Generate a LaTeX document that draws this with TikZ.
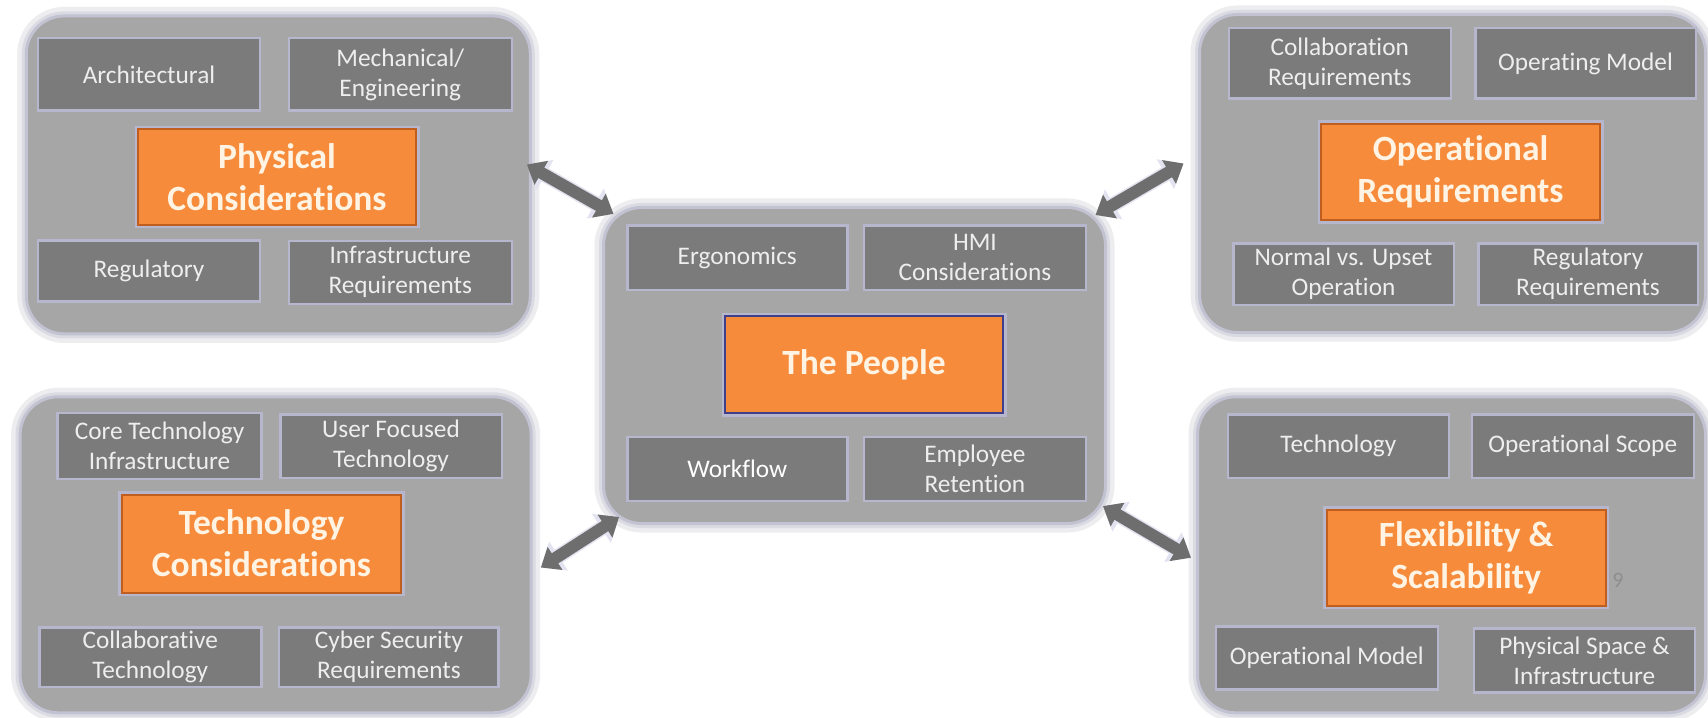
\documentclass[tikz,border=0pt]{standalone}
\usepackage{fontspec}
\setmainfont{Carlito}[Ligatures=NoCommon]
\usetikzlibrary{arrows.meta,calc}
\definecolor{panelgray}{HTML}{A6A6A6}
\definecolor{panelrim}{HTML}{C2C2D2}
\definecolor{glowA}{HTML}{DADAE2}
\definecolor{glowB}{HTML}{EDEDF0}
\definecolor{boxgray}{HTML}{7B7B7B}
\definecolor{boxrim}{HTML}{B6B6CC}
\definecolor{boxtext}{HTML}{EEEEEE}
\definecolor{orangefill}{HTML}{F78B3C}
\definecolor{orangeedge}{HTML}{BF5E1E}
\definecolor{navyedge}{HTML}{40408A}
\definecolor{titletext}{HTML}{FFF4E4}
\definecolor{arrowgray}{HTML}{6E6E6E}
\definecolor{arrowglow}{HTML}{E2E2F0}
\definecolor{pagenum}{HTML}{8E8E8E}
\newcommand{\bodyfont}{\fontsize{25.3bp}{30bp}\selectfont}
\newcommand{\titlefont}{\fontsize{35.5bp}{42bp}\selectfont\bfseries}
\begin{document}
\begin{tikzpicture}[x=1bp,y=-1bp,
  panel/.style={rounded corners=38bp, fill=panelgray, draw=panelrim, line width=3bp,
    outer sep=0pt, inner sep=0pt,
    preaction={draw=glowB, line width=18bp},
    preaction={draw=glowA, line width=9bp}},
  sbox/.style={fill=boxgray, draw=boxrim, line width=2.5bp, text=boxtext, font=\bodyfont,
    align=center, inner sep=0pt, outer sep=0pt},
  obox/.style={fill=orangefill, draw=orangeedge, line width=2bp, text=titletext, font=\titlefont,
    align=center, inner sep=0pt, outer sep=0pt,
    preaction={draw=boxrim, line width=7bp}},
  bigarrow/.style={draw=arrowgray, line width=12bp,
    arrows={Triangle[length=0pt 1.4, width=0pt 2.2]-Triangle[length=0pt 1.4, width=0pt 2.2]},
    preaction={draw=arrowglow, line width=15bp}},
]
\useasboundingbox (0,0) rectangle (1708,718);
\fill[white] (0,0) rectangle (1708,718);

% panels
\node[panel, minimum width=504bp, minimum height=318bp] (P) at (278.3,174.9) {};
\node[panel, minimum width=502bp, minimum height=316bp] (C) at (854.5,365.5) {};
\node[panel, minimum width=506bp, minimum height=318bp] (O) at (1452.5,173.5) {};
\node[panel, minimum width=511bp, minimum height=316bp] (T) at (275.6,554.8) {};
\node[panel, minimum width=508bp, minimum height=316bp] (F) at (1451.5,554.8) {};

% Physical considerations
\node[sbox, minimum width=221.5bp, minimum height=72.5bp] (pa) at (149,74.5) {Architectural};
\node[sbox, minimum width=223bp, minimum height=72.5bp] (pm) at (400.3,74.5) {Mechanical/\\Engineering};
\node[obox, minimum width=278bp, minimum height=95bp] (po) at (277,177) {Physical\\Considerations};
\node[sbox, minimum width=221.5bp, minimum height=61bp] (pr) at (149,271.2) {Regulatory};
\node[sbox, minimum width=223bp, minimum height=63bp] (pi) at (400.3,272.3) {Infrastructure\\Requirements};

% The People
\node[sbox, minimum width=220bp, minimum height=64.5bp] (ce) at (737.3,257.5) {Ergonomics};
\node[sbox, minimum width=222bp, minimum height=64.5bp] (ch) at (974.9,257.5) {HMI\\Considerations};
\node[obox, draw=navyedge, line width=2.5bp, minimum width=278bp, minimum height=97bp] (co) at (864,364.5) {The People};
\node[sbox, text=white, minimum width=220bp, minimum height=64bp] (cw) at (737.3,468.9) {Workflow};
\node[sbox, minimum width=222bp, minimum height=64bp] (cr) at (974.9,468.9) {Employee\\Retention};

% Operational requirements
\node[sbox, minimum width=222bp, minimum height=70.5bp] (oc) at (1339.8,63.5) {Collaboration\\Requirements};
\node[sbox, minimum width=220.5bp, minimum height=70.5bp] (om) at (1585.5,63.5) {Operating Model};
\node[obox, minimum width=279bp, minimum height=96bp] (oo) at (1460.5,172) {Operational\\Requirements};
\node[sbox, minimum width=220.5bp, minimum height=61.5bp] (on) at (1343.5,274) {Normal vs. Upset\\Operation};
\node[sbox, minimum width=219.5bp, minimum height=61.5bp] (or) at (1588,274) {Regulatory\\Requirements};

% Technology considerations
\node[sbox, minimum width=203.5bp, minimum height=66bp] (tc) at (159.5,446.1) {Core Technology\\Infrastructure};
\node[sbox, minimum width=221.5bp, minimum height=63.5bp] (tu) at (391,446) {User Focused\\Technology};
\node[obox, minimum width=279bp, minimum height=98bp] (to) at (261.5,543.6) {Technology\\Considerations};
\node[sbox, minimum width=222bp, minimum height=59.5bp] (tl) at (150.3,657) {Collaborative\\Technology};
\node[sbox, minimum width=219.5bp, minimum height=59.5bp] (ts) at (388.9,657) {Cyber Security\\Requirements};

% Flexibility & scalability
\node[sbox, minimum width=221bp, minimum height=63.5bp] (ft) at (1338.3,446) {Technology};
\node[sbox, minimum width=222bp, minimum height=63.5bp] (fs) at (1582.8,446) {Operational Scope};
\node[obox, minimum width=279bp, minimum height=96bp] (fo) at (1466.2,557.7) {Flexibility \&\\Scalability};
\node[sbox, minimum width=222bp, minimum height=63bp] (fm) at (1326.8,657.8) {Operational Model};
\node[sbox, minimum width=221bp, minimum height=64bp] (fp) at (1584.4,660.7) {Physical Space \&\\Infrastructure};
\node[text=pagenum, font=\fontsize{22bp}{24bp}\selectfont] (pg) at (1618,580.6) {9};

% arrows
\draw[bigarrow] ($(P.east)+(-3.6,-10.4)$) -- ($(C.north west)+(10,6.4)$);
\draw[bigarrow] ($(C.north east)+(-10,7.5)$) -- ($(O.west)+(-16,-10)$);
\draw[bigarrow] ($(T.east)+(9.8,12.7)$) -- ($(C.south west)+(15.6,-6.5)$);
\draw[bigarrow] ($(C.south east)+(-2.5,-17.4)$) -- ($(F.west)+(-6.5,2.9)$);
\end{tikzpicture}
\end{document}
